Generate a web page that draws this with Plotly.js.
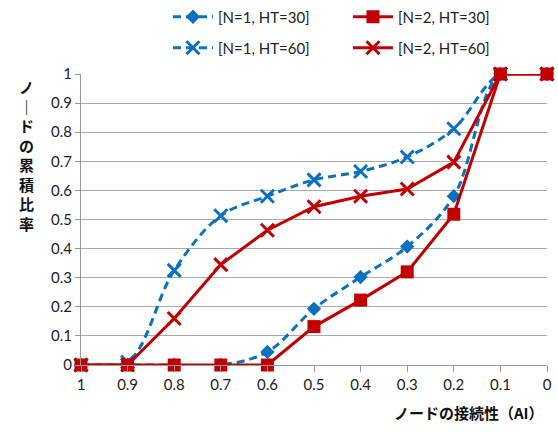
<!DOCTYPE html>
<html><head><meta charset="utf-8">
<script src="https://cdn.plot.ly/plotly-3.0.1.min.js"></script>
<style>html,body{margin:0;padding:0;background:#fff}</style>
</head><body>
<div id="chart" style="width:558px;height:432px"></div>
<script>
var xVals = [1, 0.9, 0.8, 0.7, 0.6, 0.5, 0.4, 0.3, 0.2, 0.1, 0];
var xTickLabels = ['1','0.9','0.8','0.7','0.6','0.5','0.4','0.3','0.2','0.1','0'];
var yTickVals = [0, 0.1, 0.2, 0.3, 0.4, 0.5, 0.6, 0.7, 0.8, 0.9, 1];
var yTickLabels = ['0','0.1','0.2','0.3','0.4','0.5','0.6','0.7','0.8','0.9','1'];
var n1ht30 = [0, 0, 0, 0, 0.045, 0.193, 0.302, 0.407, 0.58, 1, 1];
var n2ht30 = [0, 0, 0, 0, 0, 0.132, 0.223, 0.32, 0.518, 1, 1];
var n1ht60 = [0, 0.01, 0.325, 0.513, 0.58, 0.636, 0.665, 0.715, 0.812, 1, 1];
var n2ht60 = [0, 0, 0.16, 0.345, 0.463, 0.544, 0.58, 0.605, 0.697, 1, 1];
var names = ['[N=1, HT=30]', '[N=2, HT=30]', '[N=1, HT=60]', '[N=2, HT=60]'];

var blue = '#0A70C0', red = '#C00000';
var traces = [
  {x: xVals, y: n1ht30, name: names[0], legend: 'legend', mode: 'lines+markers',
   line: {color: blue, width: 3, dash: '8px,5px', shape: 'spline', smoothing: 1},
   marker: {symbol: 'diamond', size: 11, color: blue}, cliponaxis: false},
  {x: xVals, y: n1ht60, name: names[2], legend: 'legend3', mode: 'lines+markers',
   line: {color: blue, width: 3, dash: '8px,5px', shape: 'spline', smoothing: 1},
   marker: {symbol: 'x-thin', size: 13, color: blue, line: {color: blue, width: 3}}, cliponaxis: false},
  {x: xVals, y: n2ht30, name: names[1], legend: 'legend2', mode: 'lines+markers',
   line: {color: red, width: 3},
   marker: {symbol: 'square', size: 13, color: red}, cliponaxis: false},
  {x: xVals, y: n2ht60, name: names[3], legend: 'legend4', mode: 'lines+markers',
   line: {color: red, width: 3},
   marker: {symbol: 'x-thin', size: 13, color: red, line: {color: red, width: 3}}, cliponaxis: false}
];

function leg(x, y) {
  return {orientation: 'v', x: x, y: y, xanchor: 'left', yanchor: 'middle',
    font: {family: 'Lato, "Open Sans", sans-serif', size: 15, color: '#222'},
    itemwidth: 40, bgcolor: 'rgba(0,0,0,0)', borderwidth: 0};
}
var c1 = (168 - 81) / 466, c2 = (348 - 81) / 466;
var r1 = (365 - 17) / 291, r2 = (365 - 48) / 291;

var layout = {
  width: 558, height: 432,
  margin: {l: 81, r: 11, t: 74, b: 67, autoexpand: false},
  paper_bgcolor: '#fff', plot_bgcolor: '#fff',
  showlegend: true,
  legend: leg(c1, r1), legend2: leg(c2, r1), legend3: leg(c1, r2), legend4: leg(c2, r2),
  xaxis: {range: [1, 0], tickvals: xVals, ticktext: xTickLabels, showgrid: false,
    showline: true, linecolor: '#999', linewidth: 1, ticks: 'outside', ticklen: 6, tickcolor: '#999',
    zeroline: false, tickfont: {family: 'Lato, "Open Sans", sans-serif', size: 15, color: '#222'}},
  yaxis: {range: [0, 1], tickvals: yTickVals, ticktext: yTickLabels, showgrid: true, gridcolor: '#aaa', gridwidth: 1,
    showline: true, linecolor: '#999', ticks: 'outside', ticklen: 5, tickcolor: '#999', zeroline: false,
    tickfont: {family: 'Lato, "Open Sans", sans-serif', size: 15, color: '#222'}},
  annotations: [
    {text: '<b>ノ<br>｜<br>ド<br>の<br>累<br>積<br>比<br>率</b>', xref: 'paper', yref: 'paper',
     x: -0.116, y: 0.72, xanchor: 'center', yanchor: 'middle', showarrow: false, align: 'center',
     font: {family: '"Noto Sans CJK JP", sans-serif', size: 15, color: '#111'}},
    {text: '<b>ノードの接続性（AI）</b>', xref: 'paper', yref: 'paper', x: 0.998, y: -0.162,
     xanchor: 'right', yanchor: 'middle', showarrow: false,
     font: {family: '"Noto Sans CJK JP", sans-serif', size: 15, color: '#111'}}
  ]
};
Plotly.newPlot('chart', traces, layout, {displayModeBar: false, staticPlot: true});
</script>
</body></html>
